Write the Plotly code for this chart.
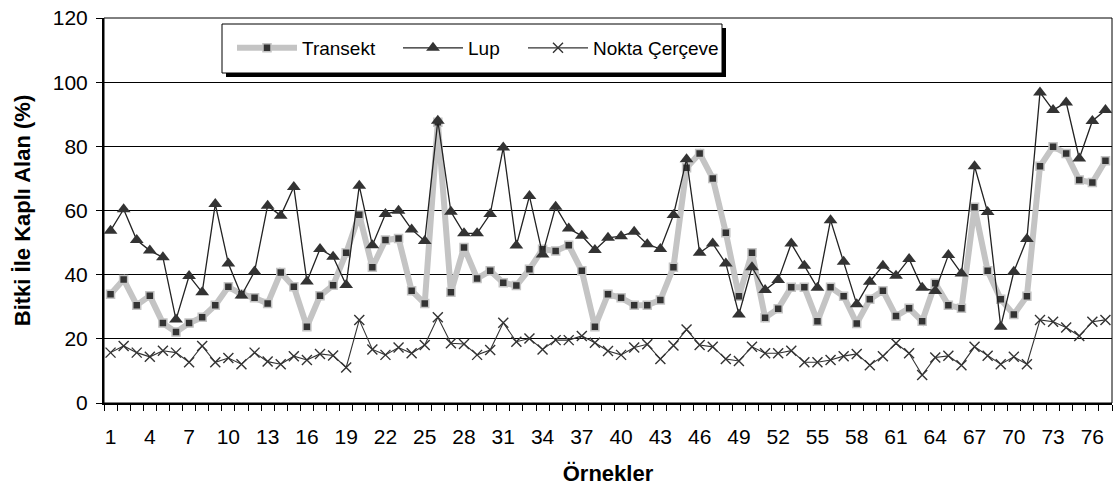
import plotly.graph_objects as go

samples = list(range(1, 78))

transekt = [33.9, 38.5, 30.5, 33.4, 24.9, 22.1, 24.9, 26.7, 30.5, 36.2,
            33.9, 32.8, 31.0, 40.7, 36.2, 23.8, 33.4, 36.7, 46.8, 58.7,
            42.3, 50.8, 51.3, 35.0, 31.0, 87.5, 34.5, 48.5, 38.8, 41.2,
            37.5, 36.6, 41.7, 47.9, 47.4, 49.2, 41.2, 23.8, 33.9, 32.8,
            30.5, 30.5, 32.1, 42.3, 73.3, 77.8, 70.0, 53.1, 33.3, 46.8,
            26.6, 29.4, 36.1, 36.1, 25.5, 36.1, 33.3, 24.8, 32.3, 35.0,
            27.1, 29.5, 25.5, 37.3, 30.5, 29.5, 61.0, 41.2, 32.3, 27.6,
            33.3, 73.8, 79.9, 77.8, 69.5, 68.7, 75.5]

lup = [53.7, 60.4, 50.8, 47.5, 45.4, 26.0, 39.6, 34.5, 62.0, 43.5,
       33.5, 41.0, 61.5, 58.4, 67.3, 37.9, 48.0, 45.6, 36.8, 67.7,
       49.2, 58.9, 59.9, 54.1, 50.5, 88.0, 59.6, 52.9, 52.9, 58.9,
       79.6, 49.1, 64.5, 46.3, 61.2, 54.4, 52.1, 47.7, 51.5, 52.0,
       53.4, 49.5, 48.0, 58.6, 76.0, 46.8, 49.7, 43.5, 27.6, 42.3,
       35.2, 38.3, 49.7, 42.8, 35.9, 57.0, 44.0, 30.8, 37.8, 42.8,
       39.7, 44.9, 35.9, 34.9, 46.1, 40.4, 73.8, 59.5, 23.8, 40.9,
       51.1, 96.8, 91.3, 93.7, 76.2, 87.9, 91.3]

nokta = [15.7, 17.8, 15.7, 14.4, 16.3, 15.7, 12.7, 17.8, 12.7, 14.0,
         12.1, 15.7, 12.9, 12.1, 14.6, 13.4, 15.3, 14.8, 11.1, 25.9,
         16.7, 15.0, 17.3, 15.5, 18.1, 26.7, 18.6, 18.4, 15.0, 16.5,
         25.0, 19.1, 20.1, 16.7, 19.6, 19.6, 20.9, 18.8, 16.2, 15.0,
         17.3, 18.3, 13.7, 17.9, 22.9, 18.1, 17.5, 13.7, 13.1, 17.5,
         15.5, 15.5, 16.3, 12.7, 12.7, 13.4, 14.6, 15.3, 11.8, 14.6,
         18.6, 15.5, 8.7, 14.2, 14.7, 11.8, 17.5, 14.7, 12.1, 14.4,
         12.1, 25.9, 25.3, 23.5, 20.9, 25.3, 25.9]

tick_vals = list(range(1, 77, 3))
tick_text = [str(v) for v in tick_vals]
y_ticks = [0, 20, 40, 60, 80, 100, 120]

font = "Liberation Sans, Arial, sans-serif"
legend_font = dict(family=font, size=19, color="black")

fig = go.Figure()
fig.add_trace(go.Scatter(
    x=samples, y=transekt, name="Transekt", mode="lines+markers", legend="legend",
    line=dict(color="#c4c4c4", width=6),
    marker=dict(symbol="square", size=8, color="#333333",
                line=dict(color="#c4c4c4", width=1.5))))
fig.add_trace(go.Scatter(
    x=samples, y=lup, name="Lup", mode="lines+markers", legend="legend2",
    line=dict(color="#222222", width=1.3),
    marker=dict(symbol="triangle-up", size=12, color="#333333")))
fig.add_trace(go.Scatter(
    x=samples, y=nokta, name="Nokta Çerçeve", mode="lines+markers", legend="legend3",
    line=dict(color="#333333", width=1.1),
    marker=dict(symbol="x-thin", size=10, color="#333333",
                line=dict(color="#333333", width=1.4))))

# plot area: x 104..1112 px, y 18..403 px
PL, PR, PT, PB = 104, 1112, 18, 403
def px(x):
    return (x - PL) / (PR - PL)
def py(y):
    return (PB - y) / (PB - PT)

leg_common = dict(orientation="h", xanchor="left", yanchor="middle", y=py(48),
                  bgcolor="rgba(0,0,0,0)", borderwidth=0, font=legend_font,
                  itemwidth=60)

fig.update_layout(
    width=1115, height=487,
    margin=dict(l=PL, r=1115 - PR, t=PT, b=487 - PB),
    plot_bgcolor="white", paper_bgcolor="white",
    font=dict(family=font, size=21, color="black"),
    showlegend=True,
    legend=dict(x=px(232), **leg_common),
    legend2=dict(x=px(398), **leg_common),
    legend3=dict(x=px(523), **leg_common),
    xaxis=dict(range=[0.5, 77.5], tickmode="array", tickvals=tick_vals,
               ticktext=tick_text, ticks="", showgrid=False, zeroline=False,
               showline=True, linecolor="black", linewidth=2,
               ticklabelstandoff=14,
               minor=dict(tickmode="array", tickvals=[v + 0.5 for v in range(0, 78)],
                          ticks="outside", ticklen=6, tickcolor="black", tickwidth=1,
                          showgrid=False),
               title=dict(text="<b>Örnekler</b>", font=dict(size=22), standoff=18)),
    yaxis=dict(range=[0, 120], tickmode="array", tickvals=y_ticks,
               ticks="outside", ticklen=6, tickcolor="black",
               ticklabelstandoff=4,
               showgrid=True, gridcolor="black", gridwidth=1, zeroline=False,
               showline=True, linecolor="black", linewidth=2,
               title=dict(text="<b>Bitki İle Kaplı Alan (%)</b>", font=dict(size=22),
                          standoff=16)),
    shapes=[
        dict(type="rect", xref="paper", yref="paper", x0=0, x1=1, y0=0, y1=1,
             line=dict(color="black", width=1), layer="below"),
        # legend shadow and box
        dict(type="rect", xref="paper", yref="paper",
             x0=px(226), x1=px(726), y0=py(77), y1=py(28),
             fillcolor="black", line=dict(width=0), layer="above"),
        dict(type="rect", xref="paper", yref="paper",
             x0=px(222), x1=px(722), y0=py(73), y1=py(24),
             fillcolor="white", line=dict(color="black", width=1), layer="above"),
    ],
)

fig.write_html("out.html")
